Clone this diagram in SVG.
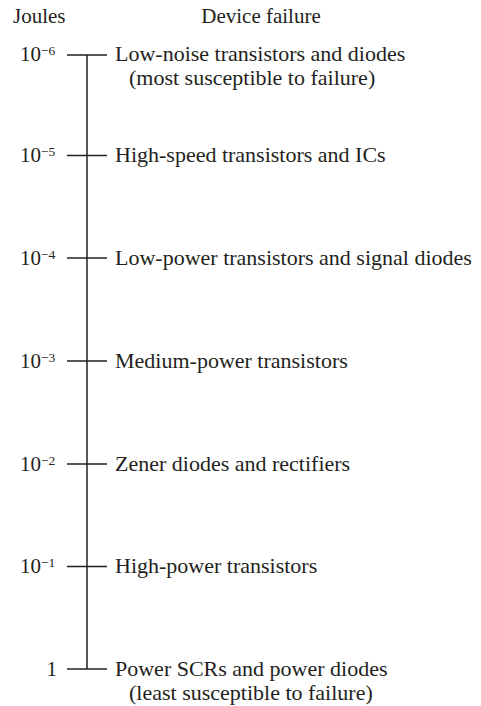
<svg xmlns="http://www.w3.org/2000/svg" width="481" height="706" viewBox="0 0 481 706">
<style>
text{font-family:"Liberation Serif","DejaVu Serif",serif;font-size:22px;fill:#231f20}
.h{font-size:21px}
.n{font-size:21px}
.e{text-anchor:end}
.sup{font-size:13.5px}
line{stroke:#231f20;stroke-width:1.5}
</style>
<rect width="481" height="706" fill="#fff"/>
<text class="h" x="13" y="23">Joules</text>
<text class="h" x="261" y="23" text-anchor="middle">Device failure</text>
<g id="connectors">
<line x1="87" y1="55" x2="87" y2="669"/>
<line x1="67" y1="55" x2="107" y2="55"/>
<line x1="67" y1="155.5" x2="107" y2="155.5"/>
<line x1="67" y1="258" x2="107" y2="258"/>
<line x1="67" y1="361" x2="107" y2="361"/>
<line x1="67" y1="464" x2="107" y2="464"/>
<line x1="67" y1="566.5" x2="107" y2="566.5"/>
<line x1="67" y1="669" x2="107" y2="669"/>
</g>
<g id="n1"><text class="n" x="20" y="61">10<tspan class="sup" dy="-6">−6</tspan></text>
<text x="115" y="61">Low-noise transistors and diodes</text>
<text x="129" y="85">(most susceptible to failure)</text></g>
<g id="n2"><text class="n" x="20" y="162">10<tspan class="sup" dy="-6">−5</tspan></text>
<text x="115" y="162">High-speed transistors and ICs</text></g>
<g id="n3"><text class="n" x="20" y="264.5">10<tspan class="sup" dy="-6">−4</tspan></text>
<text x="115" y="264.5">Low-power transistors and signal diodes</text></g>
<g id="n4"><text class="n" x="20" y="367.5">10<tspan class="sup" dy="-6">−3</tspan></text>
<text x="115" y="367.5">Medium-power transistors</text></g>
<g id="n5"><text class="n" x="20" y="470.5">10<tspan class="sup" dy="-6">−2</tspan></text>
<text x="115" y="470.5">Zener diodes and rectifiers</text></g>
<g id="n6"><text class="n" x="20" y="573">10<tspan class="sup" dy="-6">−1</tspan></text>
<text x="115" y="573">High-power transistors</text></g>
<g id="n7"><text class="n e" x="57" y="675.5">1</text>
<text x="115" y="675.5">Power SCRs and power diodes</text>
<text x="129" y="699.5">(least susceptible to failure)</text></g>
</svg>
